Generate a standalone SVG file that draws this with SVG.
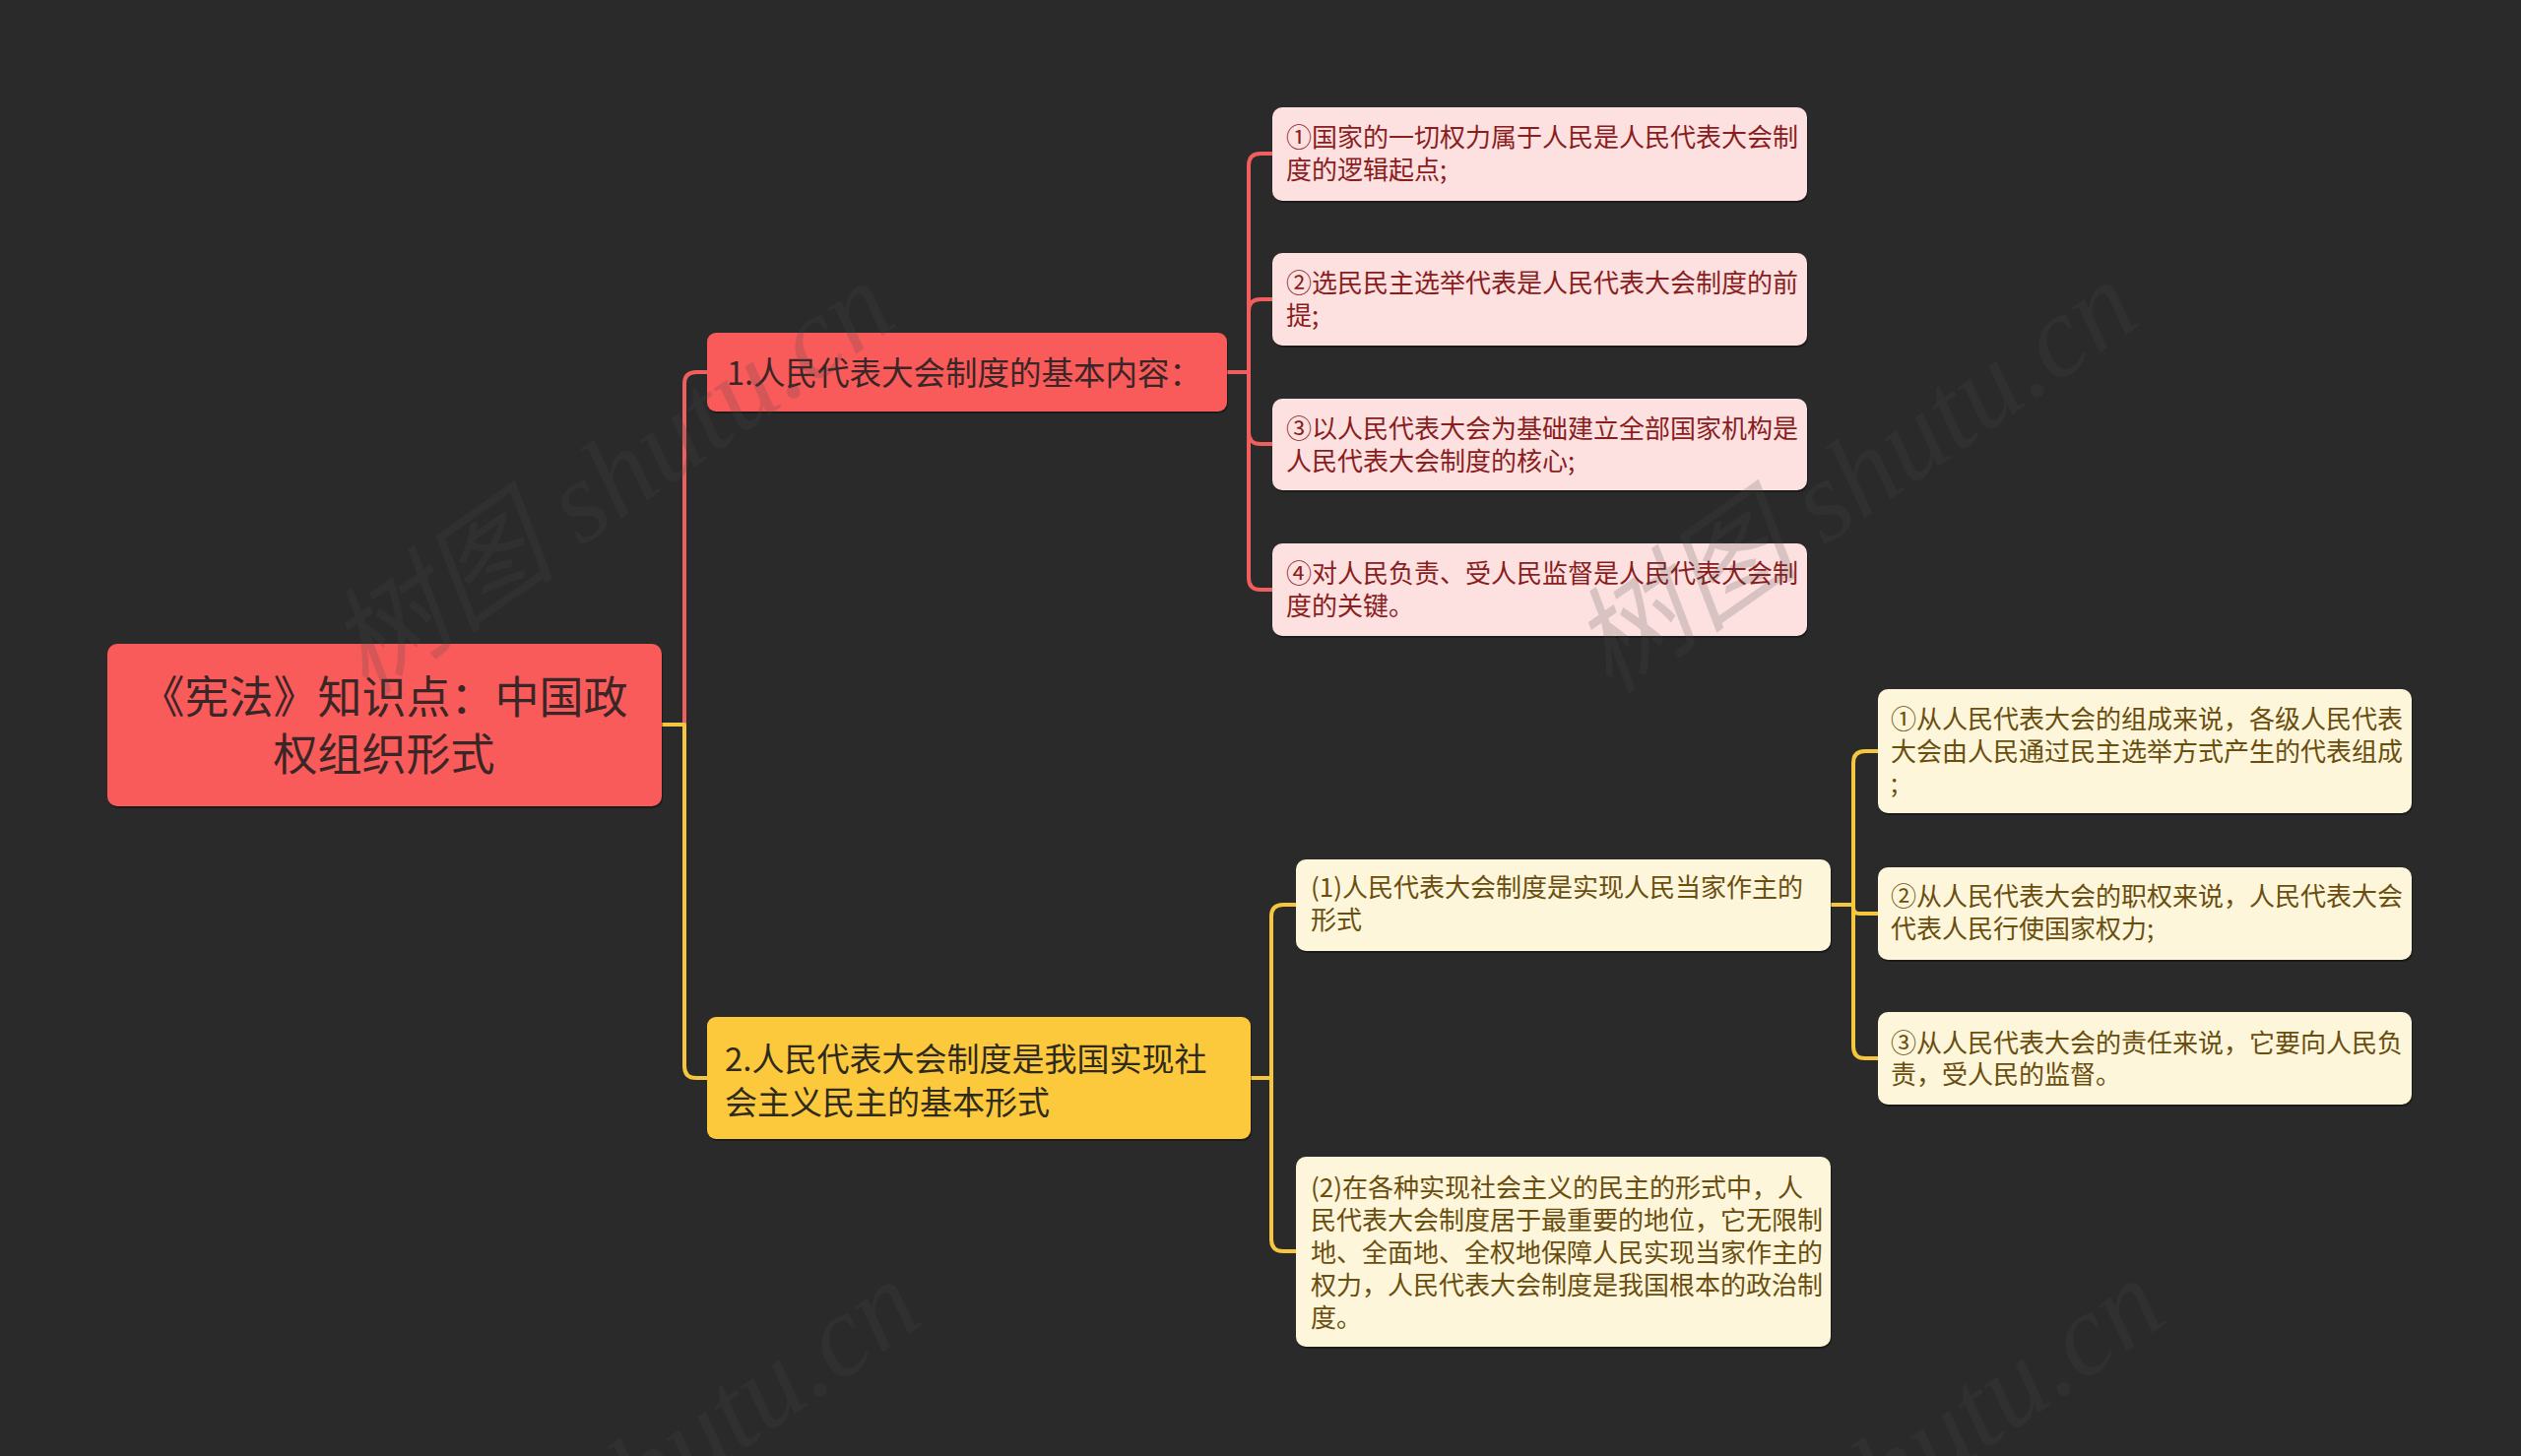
<svg xmlns="http://www.w3.org/2000/svg" width="2560" height="1479" viewBox="0 0 2560 1479">
<style>
.bg{fill:#2a2a2a}
.red{fill:#f95a5a}
.pink{fill:#fde1e1}
.yel{fill:#fcc93c}
.lyel{fill:#fdf6da}
.shadow{fill:#000;opacity:.35}
.t{font-family:"Noto Sans CJK SC","Noto Sans",sans-serif}
.troot{font-size:45px;fill:#3a2626;text-anchor:middle}
.tb1{font-size:32.5px;fill:#3a2626}
.tb2{font-size:33px;fill:#2f2a1e}
.tp{font-size:26px;fill:#8a1d1d}
.ty{font-size:26px;fill:#6a4e10}
.cr{fill:none;stroke:#f05e5e;stroke-width:4;stroke-linejoin:round}
.cy{fill:none;stroke:#f5c73e;stroke-width:4;stroke-linejoin:round}
.wm{font-family:"Liberation Serif","Noto Sans CJK SC",serif;font-size:118px;font-style:italic;fill:#494949;opacity:.2}
</style>
<rect class="bg" x="0" y="0" width="2560" height="1479"/>

<g id="connectors">
  <path class="cr" d="M672,736 H695 V390 Q695,378 707,378 H718"/>
  <path class="cr" d="M1246,378 H1268 V168 Q1268,156 1280,156 H1292"/>
  <path class="cr" d="M1246,378 H1268 V316 Q1268,304 1280,304 H1292"/>
  <path class="cr" d="M1246,378 H1268 V439 Q1268,451 1280,451 H1292"/>
  <path class="cr" d="M1246,378 H1268 V587 Q1268,599 1280,599 H1292"/>
  <path class="cy" d="M672,736 H695 V1083 Q695,1095 707,1095 H718"/>
  <path class="cy" d="M1270,1095 H1291 V931 Q1291,919 1303,919 H1316"/>
  <path class="cy" d="M1270,1095 H1291 V1259 Q1291,1271 1303,1271 H1316"/>
  <path class="cy" d="M1859,919 H1882 V775 Q1882,763 1894,763 H1907"/>
  <path class="cy" d="M1859,919 H1882 V922 Q1882,928 1888,928 H1907"/>
  <path class="cy" d="M1859,919 H1882 V1063 Q1882,1075 1894,1075 H1907"/>
</g>

<g id="root">
  <rect class="shadow" x="110" y="656" width="563" height="165" rx="10"/>
  <rect class="red" x="109" y="654" width="563" height="165" rx="10"/>
  <text class="t troot" x="390" y="725">《宪法》知识点：中国政</text>
  <text class="t troot" x="390" y="783">权组织形式</text>
</g>

<g id="branch1">
  <rect class="shadow" x="719" y="340" width="528" height="80" rx="9"/>
  <rect class="red" x="718" y="338" width="528" height="80" rx="9"/>
  <text class="t tb1" x="738" y="391">1.人民代表大会制度的基本内容：</text>
</g>

<g id="branch2">
  <rect class="shadow" x="719" y="1035" width="552" height="124" rx="9"/>
  <rect class="yel" x="718" y="1033" width="552" height="124" rx="9"/>
  <text class="t tb2" x="736" y="1088">2.人民代表大会制度是我国实现社</text>
  <text class="t tb2" x="736" y="1132">会主义民主的基本形式</text>
</g>

<g id="r1">
  <rect class="shadow" x="1293" y="111" width="543" height="95" rx="10"/>
  <rect class="pink" x="1292" y="109" width="543" height="95" rx="10"/>
  <text class="t tp" x="1306" y="149">①国家的一切权力属于人民是人民代表大会制</text>
  <text class="t tp" x="1306" y="182">度的逻辑起点;</text>
</g>
<g id="r2">
  <rect class="shadow" x="1293" y="259" width="543" height="94" rx="10"/>
  <rect class="pink" x="1292" y="257" width="543" height="94" rx="10"/>
  <text class="t tp" x="1306" y="297">②选民民主选举代表是人民代表大会制度的前</text>
  <text class="t tp" x="1306" y="330">提;</text>
</g>
<g id="r3">
  <rect class="shadow" x="1293" y="407" width="543" height="93" rx="10"/>
  <rect class="pink" x="1292" y="405" width="543" height="93" rx="10"/>
  <text class="t tp" x="1306" y="445">③以人民代表大会为基础建立全部国家机构是</text>
  <text class="t tp" x="1306" y="478">人民代表大会制度的核心;</text>
</g>
<g id="r4">
  <rect class="shadow" x="1293" y="554" width="543" height="94" rx="10"/>
  <rect class="pink" x="1292" y="552" width="543" height="94" rx="10"/>
  <text class="t tp" x="1306" y="592">④对人民负责、受人民监督是人民代表大会制</text>
  <text class="t tp" x="1306" y="625">度的关键。</text>
</g>

<g id="y1">
  <rect class="shadow" x="1317" y="875" width="543" height="93" rx="10"/>
  <rect class="lyel" x="1316" y="873" width="543" height="93" rx="10"/>
  <text class="t ty" x="1331" y="911">(1)人民代表大会制度是实现人民当家作主的</text>
  <text class="t ty" x="1331" y="944">形式</text>
</g>
<g id="y2">
  <rect class="shadow" x="1317" y="1177" width="543" height="193" rx="10"/>
  <rect class="lyel" x="1316" y="1175" width="543" height="193" rx="10"/>
  <text class="t ty" x="1331" y="1216">(2)在各种实现社会主义的民主的形式中，人</text>
  <text class="t ty" x="1331" y="1249">民代表大会制度居于最重要的地位，它无限制</text>
  <text class="t ty" x="1331" y="1282">地、全面地、全权地保障人民实现当家作主的</text>
  <text class="t ty" x="1331" y="1315">权力，人民代表大会制度是我国根本的政治制</text>
  <text class="t ty" x="1331" y="1348">度。</text>
</g>

<g id="y1a">
  <rect class="shadow" x="1908" y="702" width="542" height="126" rx="10"/>
  <rect class="lyel" x="1907" y="700" width="542" height="126" rx="10"/>
  <text class="t ty" x="1920" y="740">①从人民代表大会的组成来说，各级人民代表</text>
  <text class="t ty" x="1920" y="773">大会由人民通过民主选举方式产生的代表组成</text>
  <text class="t ty" x="1920" y="805">;</text>
</g>
<g id="y1b">
  <rect class="shadow" x="1908" y="883" width="542" height="94" rx="10"/>
  <rect class="lyel" x="1907" y="881" width="542" height="94" rx="10"/>
  <text class="t ty" x="1920" y="920">②从人民代表大会的职权来说，人民代表大会</text>
  <text class="t ty" x="1920" y="953">代表人民行使国家权力;</text>
</g>
<g id="y1c">
  <rect class="shadow" x="1908" y="1030" width="542" height="94" rx="10"/>
  <rect class="lyel" x="1907" y="1028" width="542" height="94" rx="10"/>
  <text class="t ty" x="1920" y="1069">③从人民代表大会的责任来说，它要向人民负</text>
  <text class="t ty" x="1920" y="1101">责，受人民的监督。</text>
</g>

<g id="watermarks">
  <text class="wm" transform="translate(372,708) rotate(-35)">树图 shutu.cn</text>
  <text class="wm" transform="translate(1635,707) rotate(-35)">树图 shutu.cn</text>
  <text class="wm" transform="translate(399,1722) rotate(-35)">树图 shutu.cn</text>
  <text class="wm" transform="translate(1662,1721) rotate(-35)">树图 shutu.cn</text>
</g>
</svg>
